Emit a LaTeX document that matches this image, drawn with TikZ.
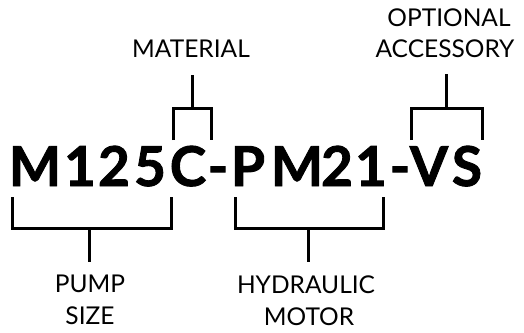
\documentclass[tikz,border=0pt]{standalone}
\usepackage{fontspec}
\setmainfont{Lato}
\newfontfamily\codefont{Lato}[BoldFeatures={FakeBold=1.6}]
\begin{document}
\begin{tikzpicture}[x=1pt,y=-1pt,
  ch/.style={inner sep=0pt,anchor=base,font=\codefont\fontsize{55}{60}\selectfont\bfseries},
  lbl/.style={inner sep=0pt,anchor=base,font=\fontsize{24.5}{30}\selectfont},
  brk/.style={line width=3pt,line join=miter,black}]
\useasboundingbox (0,0) rectangle (524,332);
% main code
\node[ch] (c1) at (35,186) {M};
\node[ch] (c2) at (80,186) {1};
\node[ch] (c3) at (114,186) {2};
\node[ch] (c4) at (150,186) {5};
\node[ch] (c5) at (188,186) {C};
\node[ch] (c6) at (218,186) {-};
\node[ch] (c7) at (248,186) {P};
\node[ch] (c8) at (297,186) {M};
\node[ch] (c9) at (337,186) {2};
\node[ch] (c10) at (371,186) {1};
\node[ch] (c11) at (400,186) {-};
\node[ch] (c12) at (429,186) {V};
\node[ch] (c13) at (467,186) {S};
% labels
\node[lbl] (mat) at (191,57) {MATERIAL};
\node[lbl] (opt1) at (449,27) {OPTIONAL};
\node[lbl] (opt2) at (445,57) {ACCESSORY};
\node[lbl] (pump1) at (90,292) {PUMP};
\node[lbl] (pump2) at (90,324) {SIZE};
\node[lbl] (hyd1) at (306,293) {HYDRAULIC};
\node[lbl] (hyd2) at (309,325) {MOTOR};
% bracket coordinates
\coordinate (matT) at (192,75);
\coordinate (matM) at (192,108);
\coordinate (optT) at (446,74);
\coordinate (optM) at (446,108);
\coordinate (pumpM) at (89,228);
\coordinate (pumpB) at (89,262);
\coordinate (hydM) at (308,228);
\coordinate (hydB) at (308,262);
% brackets
\draw[brk] (173,140) -- (173,108) -- (211,108) -- (211,140);
\draw[brk] (matT) -- (matM);
\draw[brk] (411,140) -- (411,108) -- (482,108) -- (482,140);
\draw[brk] (optT) -- (optM);
\draw[brk] (12,197) -- (12,228) -- (171,228) -- (171,197);
\draw[brk] (pumpM) -- (pumpB);
\draw[brk] (235,197) -- (235,228) -- (383,228) -- (383,197);
\draw[brk] (hydM) -- (hydB);
\end{tikzpicture}
\end{document}
